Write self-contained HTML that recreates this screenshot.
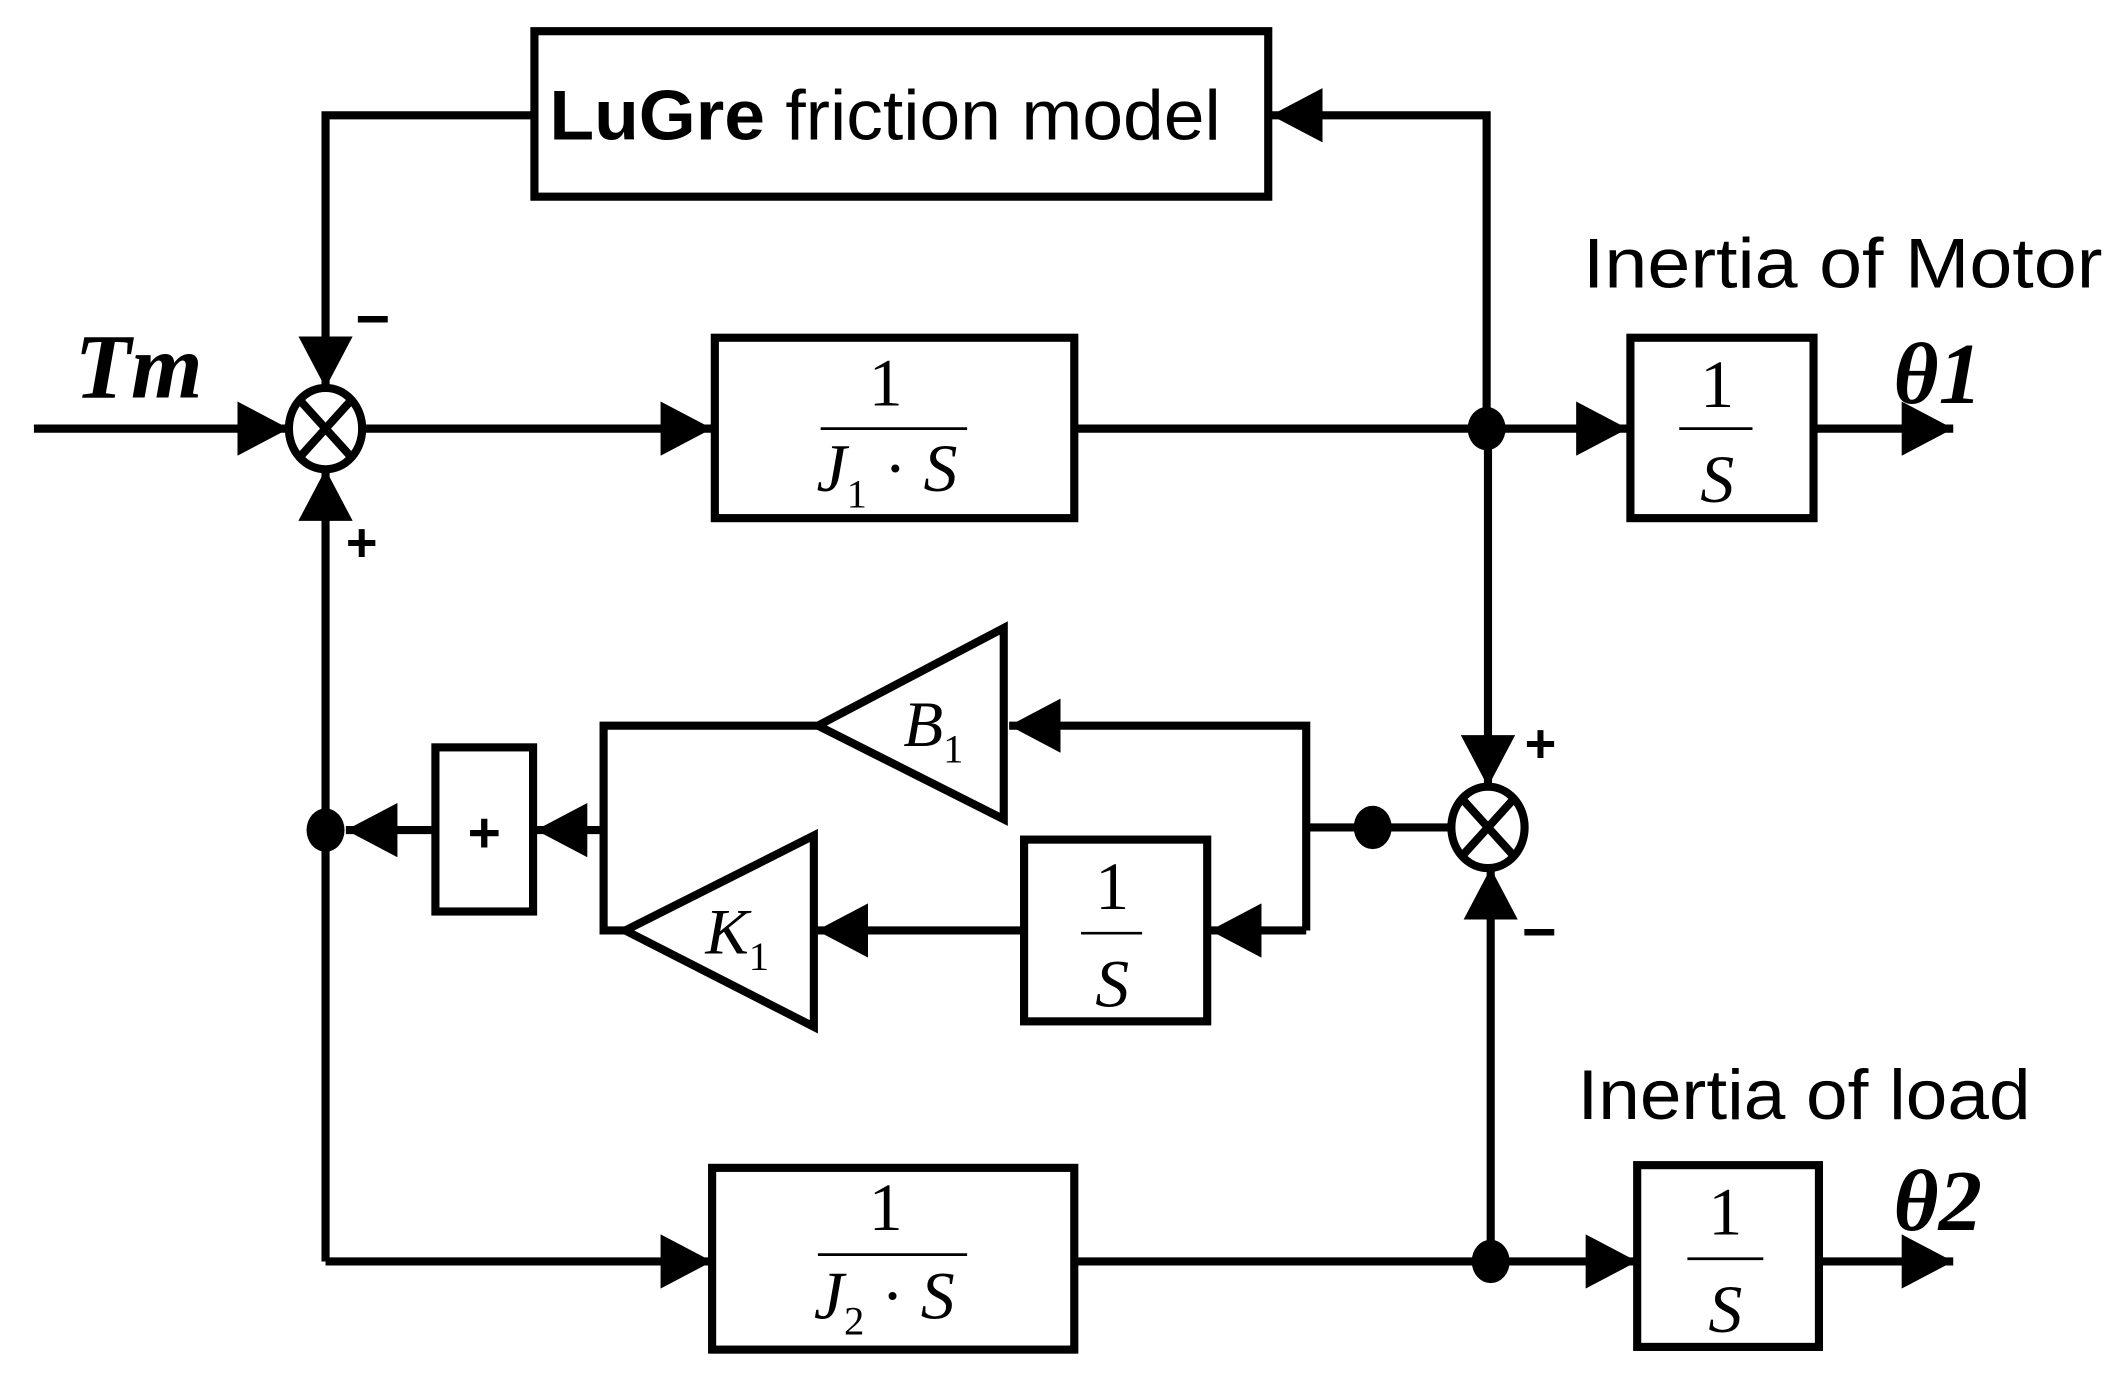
<!DOCTYPE html>
<html><head><meta charset="utf-8"><style>
html,body{margin:0;padding:0;background:#fff;width:2116px;height:1380px;overflow:hidden}
svg{display:block}
</style></head><body>
<svg width="2116" height="1380" viewBox="0 0 1560 1017.4" preserveAspectRatio="none" xmlns="http://www.w3.org/2000/svg">
<defs>
<marker id="a" viewBox="0 0 38 40" refX="38" refY="20" markerWidth="38" markerHeight="40" markerUnits="userSpaceOnUse" orient="auto">
<path d="M0,0 L38,20 L0,40 Z" fill="#000"/></marker>
</defs>
<g fill="none" stroke="#000" stroke-width="6">
<rect x="394" y="23" width="541" height="122"/>
<rect x="527" y="249" width="265" height="133"/>
<rect x="1202" y="249" width="135" height="133"/>
<rect x="321" y="551" width="72" height="121"/>
<rect x="755" y="619" width="135" height="134"/>
<rect x="525" y="861" width="267" height="134"/>
<rect x="1207" y="859" width="134" height="134"/>
<path d="M740,463 L740,604 L603,535 Z"/>
<path d="M600,616 L600,757 L461,686 Z"/>
<ellipse cx="240" cy="316" rx="27" ry="30"/>
<path d="M221,295 L259,337 M259,295 L221,337"/>
<ellipse cx="1097" cy="610" rx="27" ry="30"/>
<path d="M1078,589 L1116,631 M1116,589 L1078,631"/>
<path d="M394,85 L240,85 L240,286" marker-end="url(#a)"/>
<path d="M25,316 L213,316" marker-end="url(#a)"/>
<path d="M267,316 L525,316" marker-end="url(#a)"/>
<path d="M792,316 L1200,316" marker-end="url(#a)"/>
<path d="M1337,316 L1440,316" marker-end="url(#a)"/>
<path d="M1096,316 L1096,85 L937,85" marker-end="url(#a)"/>
<path d="M1097,316 L1097,580" marker-end="url(#a)"/>
<path d="M1099,930 L1099,640" marker-end="url(#a)"/>
<path d="M1070,610 L963,610"/>
<path d="M963,686 L963,535 L744,535" marker-end="url(#a)"/>
<path d="M963,686 L892,686" marker-end="url(#a)"/>
<path d="M755,686 L602,686" marker-end="url(#a)"/>
<path d="M603,535 L445,535 L445,686 L461,686"/>
<path d="M445,612 L395,612" marker-end="url(#a)"/>
<path d="M321,612 L255,612" marker-end="url(#a)"/>
<path d="M240,930 L240,346" marker-end="url(#a)"/>
<path d="M240,930 L525,930" marker-end="url(#a)"/>
<path d="M792,930 L1207,930" marker-end="url(#a)"/>
<path d="M1341,930 L1440,930" marker-end="url(#a)"/>
<path d="M605,316 L713,316 M1238,316 L1292,316 M797,688 L842,688 M603,925 L713,925 M1244,928 L1300,928" stroke-width="2"/>
</g>
<g fill="#000">
<ellipse cx="1096" cy="316" rx="14" ry="16"/>
<ellipse cx="1012" cy="610" rx="14" ry="16"/>
<ellipse cx="240" cy="612" rx="14" ry="16"/>
<ellipse cx="1099" cy="930" rx="14" ry="16"/>
</g>
<g font-family="Liberation Sans, sans-serif">
<text x="405" y="103" font-size="52" textLength="495" lengthAdjust="spacingAndGlyphs"><tspan font-weight="bold">LuGre</tspan> friction model</text>
<text x="1167" y="212" font-size="52" textLength="383" lengthAdjust="spacingAndGlyphs">Inertia of Motor</text>
<text x="1163" y="825" font-size="52" textLength="334" lengthAdjust="spacingAndGlyphs">Inertia of load</text>
<text x="262" y="250" font-size="44" font-weight="bold">−</text>
<text x="255" y="414" font-size="40" font-weight="bold">+</text>
<text x="1124" y="562" font-size="40" font-weight="bold">+</text>
<text x="1122" y="702" font-size="44" font-weight="bold">−</text>
<text x="357" y="628" font-size="42" font-weight="bold" text-anchor="middle">+</text>
</g>
<g font-family="Liberation Serif, serif" font-style="italic">
<text x="55" y="293" font-size="68" font-weight="bold">Tm</text>
<text x="1396" y="297" font-size="64" font-weight="bold">θ1</text>
<text x="1396" y="907" font-size="64" font-weight="bold">θ2</text>
<text x="653" y="299" font-size="50" font-style="normal" text-anchor="middle">1</text>
<text x="602" y="362" font-size="50">J<tspan font-style="normal" font-size="30" dy="12">1</tspan><tspan dy="-12" font-style="normal"> · </tspan>S</text>
<text x="653" y="907" font-size="50" font-style="normal" text-anchor="middle">1</text>
<text x="600" y="972" font-size="50">J<tspan font-style="normal" font-size="30" dy="12">2</tspan><tspan dy="-12" font-style="normal"> · </tspan>S</text>
<text x="1266" y="300" font-size="50" font-style="normal" text-anchor="middle">1</text>
<text x="1266" y="370" font-size="50" text-anchor="middle">S</text>
<text x="1272" y="910" font-size="50" font-style="normal" text-anchor="middle">1</text>
<text x="1272" y="982" font-size="50" text-anchor="middle">S</text>
<text x="820" y="670" font-size="50" font-style="normal" text-anchor="middle">1</text>
<text x="820" y="742" font-size="50" text-anchor="middle">S</text>
<text x="666" y="550" font-size="48">B<tspan font-style="normal" font-size="30" dy="12">1</tspan></text>
<text x="520" y="703" font-size="48">K<tspan font-style="normal" font-size="30" dy="12">1</tspan></text>
</g>
</svg>
</body></html>
